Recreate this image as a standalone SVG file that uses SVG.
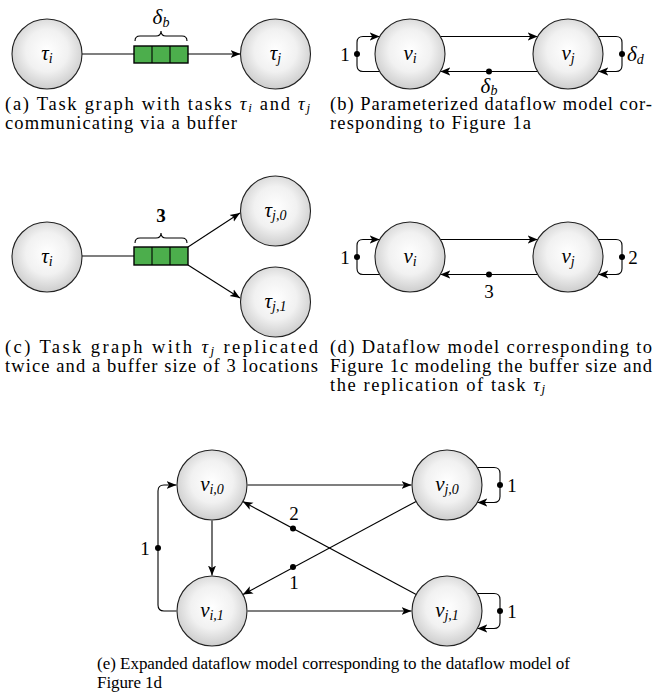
<svg xmlns="http://www.w3.org/2000/svg" width="660" height="700" viewBox="0 0 660 700" font-family="'Liberation Serif', 'Times New Roman', 'DejaVu Serif', serif">
<style>
.node{fill:url(#ball);stroke:#222;stroke-width:1.1}
.edge{fill:none;stroke:#000;stroke-width:1.1}
.arr{marker-end:url(#ah)}
.dot{fill:#000}
.buf{fill:#4cae4c;stroke:#000;stroke-width:1.4}
text{font-family:'Liberation Serif','Times New Roman','DejaVu Serif',serif;fill:#000}
.math{font-style:italic;font-size:21px}
.sub{font-size:14px}
.num{font-size:19px}
.cap{font-size:18.5px}
.cape{font-size:17px}
.it{font-style:italic}
</style>
<defs>
<radialGradient id="ball" cx="50%" cy="45%" r="55%">
<stop offset="0" stop-color="#ffffff"/>
<stop offset="0.55" stop-color="#f1f1f1"/>
<stop offset="1" stop-color="#cdcdcd"/>
</radialGradient>
<marker id="ah" markerUnits="userSpaceOnUse" markerWidth="11" markerHeight="9" refX="10" refY="4.5" orient="auto">
<path d="M0,0.5 L10,4.5 L0,8.5 L2.5,4.5 Z" fill="#000"/>
</marker>
</defs>

<g id="connectors">
<path class="edge" d="M82,54 H134"/>
<path class="edge arr" d="M188,54 H240.5"/>
<path class="edge" d="M135,41 Q135,36 140,36 H156 Q161,36 161,31 Q161,36 166,36 H182 Q187,36 187,41"/>
<path class="edge arr" d="M440.3,36.5 H537.7"/>
<path class="edge arr" d="M537.7,71.5 H440.3"/>
<path class="edge arr" d="M379.7,71.5 H363 Q357,71.5 357,65.5 V42.5 Q357,36.5 363,36.5 H379.7"/>
<path class="edge arr" d="M598.3,36.5 H616 Q622,36.5 622,42.5 V65.5 Q622,71.5 616,71.5 H598.3"/>
<circle class="dot" cx="489" cy="71.5" r="3"/>
<circle class="dot" cx="357" cy="54" r="3"/>
<circle class="dot" cx="622" cy="54" r="3"/>
<path class="edge" d="M82,256 H134"/>
<path class="edge arr" d="M188,247 L240,213"/>
<path class="edge arr" d="M188,265 L240,298"/>
<path class="edge" d="M135,243 Q135,238 140,238 H156 Q161,238 161,233 Q161,238 166,238 H182 Q187,238 187,243"/>
<path class="edge arr" d="M440.3,239.5 H537.7"/>
<path class="edge arr" d="M537.7,274.5 H440.3"/>
<path class="edge arr" d="M379.7,274.5 H363 Q357,274.5 357,268.5 V245.5 Q357,239.5 363,239.5 H379.7"/>
<path class="edge arr" d="M598.3,239.5 H616 Q622,239.5 622,245.5 V268.5 Q622,274.5 616,274.5 H598.3"/>
<circle class="dot" cx="489" cy="274.5" r="3"/>
<circle class="dot" cx="357" cy="257" r="3"/>
<circle class="dot" cx="622" cy="257" r="3"/>
<path class="edge arr" d="M247.5,485 H411.5"/>
<path class="edge arr" d="M247.5,611 H411.5"/>
<path class="edge arr" d="M212,520.5 V575.5"/>
<path class="edge arr" d="M176.5,611 H164 Q158,611 158,605 V491 Q158,485 164,485 H176.5"/>
<path class="edge arr" d="M416.1,501.4 L242.9,594.6"/>
<path class="edge arr" d="M416.2,594.5 L242.8,501.5"/>
<path class="edge arr" d="M477.3,467.5 H494 Q500,467.5 500,473.5 V496.5 Q500,502.5 494,502.5 H477.3"/>
<path class="edge arr" d="M477.3,593.5 H494 Q500,593.5 500,599.5 V622.5 Q500,628.5 494,628.5 H477.3"/>
<circle class="dot" cx="158" cy="548" r="3"/>
<circle class="dot" cx="293" cy="528.5" r="3"/>
<circle class="dot" cx="293" cy="567" r="3"/>
<circle class="dot" cx="500" cy="485" r="3"/>
<circle class="dot" cx="500" cy="611" r="3"/>
</g>

<g id="buffer-a">
<rect class="buf" x="134" y="46" width="54" height="17"/>
<path class="edge" d="M152,46 V63 M170,46 V63" stroke-width="1.2"/>
</g>
<g id="buffer-c">
<rect class="buf" x="134" y="247" width="54" height="18"/>
<path class="edge" d="M152,247 V265 M170,247 V265" stroke-width="1.2"/>
</g>

<g id="a-tau-i"><circle class="node" cx="47" cy="54" r="35"/><text class="math" x="47" y="60" text-anchor="middle">τ<tspan class="sub" dy="3">i</tspan></text></g>
<g id="a-tau-j"><circle class="node" cx="275.5" cy="54" r="35"/><text class="math" x="275.5" y="60" text-anchor="middle">τ<tspan class="sub" dy="3">j</tspan></text></g>
<g id="b-v-i"><circle class="node" cx="410" cy="54" r="35"/><text class="math" x="410" y="60" text-anchor="middle">v<tspan class="sub" dy="3">i</tspan></text></g>
<g id="b-v-j"><circle class="node" cx="568" cy="54" r="35"/><text class="math" x="568" y="60" text-anchor="middle">v<tspan class="sub" dy="3">j</tspan></text></g>
<g id="c-tau-i"><circle class="node" cx="47" cy="257" r="35"/><text class="math" x="47" y="263" text-anchor="middle">τ<tspan class="sub" dy="3">i</tspan></text></g>
<g id="c-tau-j0"><circle class="node" cx="275.5" cy="211" r="35"/><text class="math" x="275.5" y="217" text-anchor="middle">τ<tspan class="sub" dy="3">j,0</tspan></text></g>
<g id="c-tau-j1"><circle class="node" cx="275.5" cy="302" r="35"/><text class="math" x="275.5" y="308" text-anchor="middle">τ<tspan class="sub" dy="3">j,1</tspan></text></g>
<g id="d-v-i"><circle class="node" cx="410" cy="257" r="35"/><text class="math" x="410" y="263" text-anchor="middle">v<tspan class="sub" dy="3">i</tspan></text></g>
<g id="d-v-j"><circle class="node" cx="568" cy="257" r="35"/><text class="math" x="568" y="263" text-anchor="middle">v<tspan class="sub" dy="3">j</tspan></text></g>
<g id="e-v-i0"><circle class="node" cx="212" cy="485" r="35"/><text class="math" x="212" y="491" text-anchor="middle">v<tspan class="sub" dy="3">i,0</tspan></text></g>
<g id="e-v-i1"><circle class="node" cx="212" cy="611" r="35"/><text class="math" x="212" y="617" text-anchor="middle">v<tspan class="sub" dy="3">i,1</tspan></text></g>
<g id="e-v-j0"><circle class="node" cx="447" cy="485" r="35"/><text class="math" x="447" y="491" text-anchor="middle">v<tspan class="sub" dy="3">j,0</tspan></text></g>
<g id="e-v-j1"><circle class="node" cx="447" cy="611" r="35"/><text class="math" x="447" y="617" text-anchor="middle">v<tspan class="sub" dy="3">j,1</tspan></text></g>

<g id="labels">
<text class="math" x="161" y="24" text-anchor="middle">δ<tspan class="sub" dy="3">b</tspan></text>
<text class="num" x="161" y="222" text-anchor="middle" font-weight="bold">3</text>
<text class="num" x="345" y="61" text-anchor="middle">1</text>
<text class="math" x="489" y="93" text-anchor="middle">δ<tspan class="sub" dy="2">b</tspan></text>
<text class="math" x="627" y="61">δ<tspan class="sub" dy="3">d</tspan></text>
<text class="num" x="345" y="264" text-anchor="middle">1</text>
<text class="num" x="633" y="264" text-anchor="middle">2</text>
<text class="num" x="489" y="298" text-anchor="middle">3</text>
<text class="num" x="145" y="555" text-anchor="middle">1</text>
<text class="num" x="294" y="520" text-anchor="middle">2</text>
<text class="num" x="294" y="589" text-anchor="middle">1</text>
<text class="num" x="512" y="492" text-anchor="middle">1</text>
<text class="num" x="512" y="618" text-anchor="middle">1</text>
</g>

<g id="captions">
<text class="cap" x="5" y="110" textLength="305" lengthAdjust="spacing">(a) Task graph with tasks <tspan class="it">τ</tspan><tspan class="it" font-size="13" dy="2">i</tspan><tspan dy="-2"> and </tspan><tspan class="it">τ</tspan><tspan class="it" font-size="13" dy="2">j</tspan></text>
<text class="cap" x="5" y="129" textLength="232" lengthAdjust="spacing">communicating via a buffer</text>
<text class="cap" x="330" y="110" textLength="322" lengthAdjust="spacing">(b) Parameterized dataflow model cor-</text>
<text class="cap" x="330" y="129" textLength="201" lengthAdjust="spacing">responding to Figure 1a</text>
<text class="cap" x="5" y="353" textLength="313" lengthAdjust="spacing">(c) Task graph with <tspan class="it">τ</tspan><tspan class="it" font-size="13" dy="2">j</tspan><tspan dy="-2"> replicated</tspan></text>
<text class="cap" x="5" y="372" textLength="313" lengthAdjust="spacing">twice and a buffer size of 3 locations</text>
<text class="cap" x="330" y="353" textLength="322" lengthAdjust="spacing">(d) Dataflow model corresponding to</text>
<text class="cap" x="330" y="372" textLength="322" lengthAdjust="spacing">Figure 1c modeling the buffer size and</text>
<text class="cap" x="330" y="391" textLength="215" lengthAdjust="spacing">the replication of task <tspan class="it">τ</tspan><tspan class="it" font-size="13" dy="2">j</tspan></text>
<text class="cape" x="97" y="669" textLength="473" lengthAdjust="spacing">(e) Expanded dataflow model corresponding to the dataflow model of</text>
<text class="cape" x="97" y="688" textLength="65" lengthAdjust="spacing">Figure 1d</text>
</g>
</svg>
